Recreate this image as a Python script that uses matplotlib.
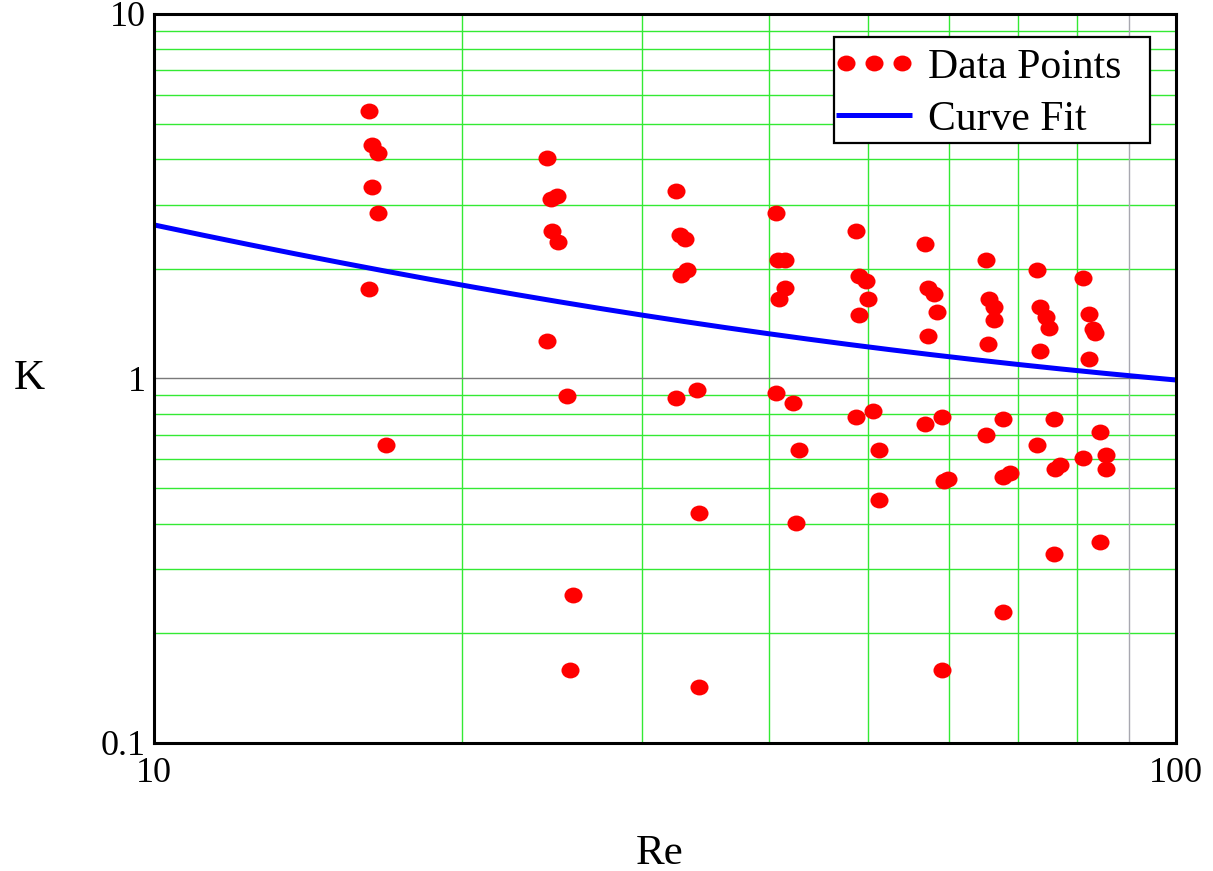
import numpy as np
import matplotlib
matplotlib.use("Agg")
import matplotlib.pyplot as plt
from matplotlib.path import Path
from matplotlib.patches import Rectangle
from matplotlib.transforms import Affine2D
from matplotlib.ticker import FixedLocator, NullLocator
from matplotlib.legend_handler import HandlerLine2D

# Measured loss coefficients K against Reynolds number Re
re_vals = [
    16.23, 16.34, 16.56, 16.34, 16.56, 16.23, 16.87,
    24.24, 24.46, 24.80, 24.51, 24.85, 24.24, 25.36, 25.70, 25.53,
    32.43, 32.72, 33.09, 33.24, 32.80, 32.43, 34.00, 34.14, 34.14,
    40.60, 40.80, 41.44, 41.40, 40.87, 40.60, 42.22, 42.80, 42.50,
    48.67, 48.98, 49.70, 49.96, 48.98, 48.67, 50.56, 51.24, 51.24,
    56.85, 57.15, 58.00, 58.33, 57.15, 56.85, 59.00, 59.30, 59.80, 59.00,
    65.15, 65.60, 66.40, 66.37, 65.50, 67.67, 65.15, 67.70, 68.80, 67.67,
    73.17, 73.60, 74.57, 75.07, 73.60, 76.00, 73.10, 76.10, 77.00, 76.00,
    81.04, 82.15, 82.90, 83.30, 82.15, 84.25, 81.04, 85.35, 85.35, 84.25,
]
k_vals = [
    5.42, 4.36, 4.16, 3.35, 2.84, 1.76, 0.657,
    4.03, 3.11, 3.17, 2.54, 2.37, 1.27, 0.895, 0.255, 0.159,
    3.27, 2.475, 2.41, 1.985, 1.92, 0.884, 0.93, 0.428, 0.142,
    2.85, 2.11, 2.11, 1.775, 1.656, 0.914, 0.855, 0.637, 0.401,
    2.54, 1.915, 1.855, 1.652, 1.496, 0.786, 0.814, 0.637, 0.464,
    2.334, 1.768, 1.705, 1.525, 1.31, 0.75, 0.786, 0.523, 0.53, 0.159,
    2.114, 1.649, 1.574, 1.447, 1.246, 0.774, 0.70, 0.536, 0.552, 0.229,
    1.985, 1.574, 1.472, 1.373, 1.19, 0.774, 0.657, 0.563, 0.579, 0.329,
    1.884, 1.503, 1.364, 1.336, 1.131, 0.715, 0.604, 0.617, 0.565, 0.357,
]

# Curve fit K = k_inf + k_1 * Re^(-n)
k_inf, k_1, n_exp = 0.68, 12.35, 0.8

x_ticks = [10, 100]
x_tick_labels = ["10", "100"]
y_ticks = [0.1, 1, 10]
y_tick_labels = ["0.1", "1", "10"]

plt.rcParams["font.family"] = ["Liberation Serif", "DejaVu Serif"]

W, H = 1213, 871
fig = plt.figure(figsize=(W / 100, H / 100), dpi=100)
ax = fig.add_axes([0.127, 0.147, 0.8425, 0.837])
ax.set_xscale("log")
ax.set_yscale("log")
ax.set_xlim(10, 100)
ax.set_ylim(0.1, 10)

# grid: green minor lines, grey decade line
green = "#33ea33"
for d in (1, 10):
    for m in range(2, 10):
        ax.axhline(m * d * 0.1, color=green, lw=1.0, zorder=1)
for m in range(2, 9):
    ax.axvline(m * 10, color=green, lw=1.0, zorder=1)
ax.axvline(90, color="#a8a8b0", lw=1.0, zorder=1)
ax.axhline(1, color="#7a7a7a", lw=1.0, zorder=1)

# fitted curve
re_fit = np.logspace(1, 2, 400)
k_fit = k_inf + k_1 * re_fit ** (-n_exp)
fit_line, = ax.plot(re_fit, k_fit, color="#0000ff", lw=3.6,
                    solid_capstyle="butt", zorder=3, label="Curve Fit")

# slightly flattened round markers
ell = Path.unit_circle().transformed(Affine2D().scale(1.0, 0.88))
pts, = ax.plot(re_vals, k_vals, linestyle="none", marker=ell, markersize=13,
               color="#ff0000", markeredgewidth=0, zorder=4,
               label="Data Points")

ax.xaxis.set_major_locator(FixedLocator(x_ticks))
ax.xaxis.set_minor_locator(NullLocator())
ax.yaxis.set_major_locator(FixedLocator(y_ticks))
ax.yaxis.set_minor_locator(NullLocator())
ax.set_xticklabels(x_tick_labels)
ax.set_yticklabels(y_tick_labels)
ax.tick_params(axis="both", length=0, labelsize=26)
ax.tick_params(axis="x", pad=10)
ax.tick_params(axis="y", pad=6)

for s in ax.spines.values():
    s.set_linewidth(2.2)
    s.set_color("black")
    s.set_zorder(5)

ax.set_xlabel("Re", fontsize=31, va="center", ha="center")
ax.xaxis.set_label_coords(0.495, -0.152)
ax.set_ylabel("K", fontsize=31, rotation=0, va="center", ha="center")
ax.yaxis.set_label_coords(-0.122, 0.5)

# legend box (drawn separately so the right margin is wider than the left)
box_l, box_t, box_r, box_b = 834, 37, 1150, 143
ax.add_patch(Rectangle((box_l / W, 1 - box_b / H),
                       (box_r - box_l) / W, (box_b - box_t) / H,
                       transform=fig.transFigure, facecolor="white",
                       edgecolor="black", linewidth=1.6, zorder=6,
                       clip_on=False))

leg = ax.legend([pts, fit_line], ["Data Points", "Curve Fit"],
                handler_map={pts: HandlerLine2D(numpoints=3, marker_pad=0.23),
                             fit_line: HandlerLine2D(numpoints=2, marker_pad=0.0)},
                loc="upper left", bbox_to_anchor=(831 / W, 1 - 43 / H),
                bbox_transform=fig.transFigure,
                borderaxespad=0, fontsize=30, handlelength=1.82,
                handletextpad=0.38, labelspacing=0.33, borderpad=0.12,
                frameon=False)
leg.set_zorder(7)

fig.savefig("out.png", dpi=100)
